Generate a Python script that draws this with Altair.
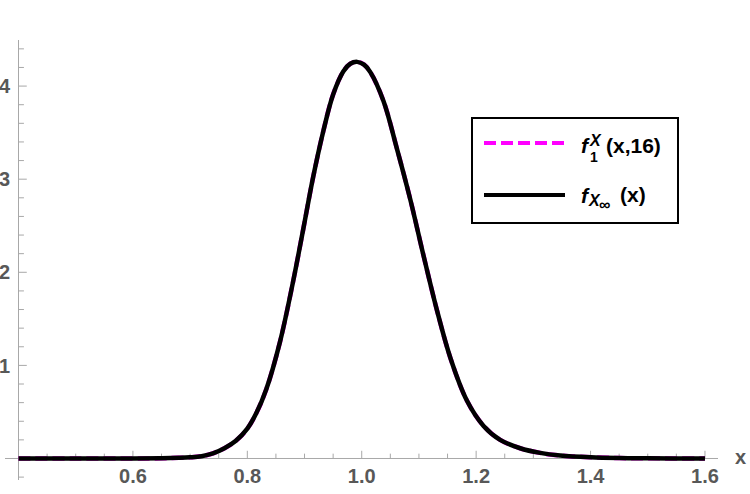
import altair as alt
import pandas as pd

# ---- data ----
x_vals = [0.40, 0.50, 0.60, 0.65, 0.68, 0.70, 0.72, 0.74, 0.76, 0.78, 0.80, 0.816, 0.833,
          0.857, 0.880, 0.898, 0.915, 0.933, 0.950, 0.968, 0.980, 0.992, 1.004, 1.015,
          1.038, 1.061, 1.085, 1.108, 1.132, 1.155, 1.184, 1.213, 1.242, 1.277, 1.312,
          1.347, 1.40, 1.45, 1.50, 1.60]
f1_vals = [0.0, 0.0, 0.0, 0.002, 0.007, 0.013, 0.025, 0.055, 0.11, 0.19, 0.32, 0.49, 0.74,
           1.25, 1.90, 2.47, 3.02, 3.52, 3.91, 4.16, 4.24, 4.26, 4.23, 4.15,
           3.84, 3.34, 2.78, 2.18, 1.58, 1.08, 0.62, 0.35, 0.20, 0.11, 0.060,
           0.032, 0.013, 0.005, 0.002, 0.0]
finf_vals = [0.0, 0.0, 0.0, 0.002, 0.007, 0.013, 0.025, 0.055, 0.11, 0.19, 0.32, 0.49, 0.74,
             1.25, 1.90, 2.47, 3.02, 3.52, 3.91, 4.16, 4.24, 4.26, 4.23, 4.15,
             3.84, 3.34, 2.78, 2.18, 1.58, 1.08, 0.62, 0.35, 0.20, 0.11, 0.060,
             0.032, 0.013, 0.005, 0.002, 0.0]

x_major = [0.6, 0.8, 1.0, 1.2, 1.4, 1.6]
x_major_labels = ["0.6", "0.8", "1.0", "1.2", "1.4", "1.6"]
x_minor = [0.45, 0.5, 0.55, 0.65, 0.7, 0.75, 0.85, 0.9, 0.95, 1.05, 1.1, 1.15,
           1.25, 1.3, 1.35, 1.45, 1.5, 1.55]
y_major = [1, 2, 3, 4]
y_major_labels = ["1", "2", "3", "4"]
y_minor = [-0.2, 0.2, 0.4, 0.6, 0.8, 1.2, 1.4, 1.6, 1.8, 2.2, 2.4, 2.6, 2.8,
           3.2, 3.4, 3.6, 3.8, 4.2, 4.4]

# legend text pieces
legend_texts = ["f", "1", "X", "(x,16)", "f", "X", "\u221e", "(x)"]
legend_sizes = [21, 14, 16, 21, 21, 16, 16, 21]
legend_italic = [True, False, True, False, True, True, False, False]
legend_px = [576, 585, 585, 601, 576, 584, 594, 615]
legend_py = [113, 122, 106, 113, 163, 166, 170, 162]

# ---- layout ----
XMIN, XMAX = 0.3764, 1.6228
YMIN, YMAX = -0.231, 4.495
W, H = 713, 440
AX_X = 0.4
GRAY = "#a8a8a8"
LABEL = "#585858"
FONT = "Liberation Sans"

xs = alt.Scale(domain=[XMIN, XMAX], nice=False, zero=False)
ys = alt.Scale(domain=[YMIN, YMAX], nice=False, zero=False)

curve_df = pd.DataFrame({"x": x_vals, "f1": f1_vals, "finf": finf_vals})
xmaj_df = pd.DataFrame({"v": x_major, "t": x_major_labels, "y0": 0.0, "y1": 0.083})
xmin_df = pd.DataFrame({"v": x_minor, "y0": 0.0, "y1": 0.052})
ymaj_df = pd.DataFrame({"v": y_major, "t": y_major_labels, "x0": AX_X, "x1": AX_X + 0.0145})
ymin_df = pd.DataFrame({"v": y_minor, "x0": AX_X, "x1": AX_X + 0.0095})
hline_df = pd.DataFrame({"x0": [XMIN], "x1": [XMAX], "y": [0.0]})
vline_df = pd.DataFrame({"x": [AX_X], "y0": [YMIN], "y1": [YMAX]})
one = pd.DataFrame({"a": [0]})

X = lambda f: alt.X(f, type="quantitative", scale=xs, axis=None)
Y = lambda f: alt.Y(f, type="quantitative", scale=ys, axis=None)

layers = []
# axis lines
layers.append(alt.Chart(hline_df).mark_rule(color=GRAY, strokeWidth=1).encode(
    x=X("x0"), x2="x1", y=Y("y")))
layers.append(alt.Chart(vline_df).mark_rule(color=GRAY, strokeWidth=1).encode(
    x=X("x"), y=Y("y0"), y2="y1"))
# ticks (inward)
layers.append(alt.Chart(xmaj_df).mark_rule(color=GRAY, strokeWidth=1).encode(
    x=X("v"), y=Y("y0"), y2="y1"))
layers.append(alt.Chart(xmin_df).mark_rule(color=GRAY, strokeWidth=1).encode(
    x=X("v"), y=Y("y0"), y2="y1"))
layers.append(alt.Chart(ymaj_df).mark_rule(color=GRAY, strokeWidth=1).encode(
    y=Y("v"), x=X("x0"), x2="x1"))
layers.append(alt.Chart(ymin_df).mark_rule(color=GRAY, strokeWidth=1).encode(
    y=Y("v"), x=X("x0"), x2="x1"))
# tick labels
layers.append(alt.Chart(xmaj_df).mark_text(
    font=FONT, fontSize=20, fontWeight="bold", color=LABEL,
    align="center", baseline="alphabetic", dy=24.5).encode(
    x=X("v"), y=Y("y0"), text="t:N"))
layers.append(alt.Chart(ymaj_df).mark_text(
    font=FONT, fontSize=20, fontWeight="bold", color=LABEL,
    align="right", baseline="alphabetic", dx=-8.5, dy=7.2).encode(
    y=Y("v"), x=X("x0"), text="t:N"))
layers.append(alt.Chart(one).mark_text(
    font=FONT, fontSize=20, fontWeight="bold", color=LABEL,
    align="left", baseline="alphabetic", text="x").encode(
    x=alt.value(730), y=alt.value(424)))
# curves
layers.append(alt.Chart(curve_df).mark_line(
    color="#ff00ff", strokeWidth=4.5, strokeDash=[12, 5], interpolate="catmull-rom").encode(
    x=X("x"), y=Y("f1")))
layers.append(alt.Chart(curve_df).mark_line(
    color="black", strokeWidth=4.5, interpolate="catmull-rom").encode(
    x=X("x"), y=Y("finf")))
# legend
layers.append(alt.Chart(one).mark_rect(fill="white", stroke="black", strokeWidth=2).encode(
    x=alt.value(467), x2=alt.value(673), y=alt.value(78), y2=alt.value(183)))
layers.append(alt.Chart(one).mark_rule(color="#ff00ff", strokeWidth=4, strokeDash=[12, 5]).encode(
    x=alt.value(479), x2=alt.value(560), y=alt.value(103)))
layers.append(alt.Chart(one).mark_rule(color="black", strokeWidth=4).encode(
    x=alt.value(479), x2=alt.value(560), y=alt.value(155)))
for t, s, it, px, py in zip(legend_texts, legend_sizes, legend_italic, legend_px, legend_py):
    kw = dict(font=FONT, fontSize=s, fontWeight="bold", color="black",
              align="left", baseline="alphabetic", text=t)
    if it:
        kw["fontStyle"] = "italic"
    layers.append(alt.Chart(one).mark_text(**kw).encode(
        x=alt.value(px), y=alt.value(py)))

chart = alt.layer(*layers).properties(
    width=W, height=H,
    padding={"left": 5, "top": 40, "right": 32, "bottom": 14},
    autosize="none",
    background="white",
).configure_view(stroke=None)

chart.save("out.html", embed_options={"renderer": "svg", "actions": False})
